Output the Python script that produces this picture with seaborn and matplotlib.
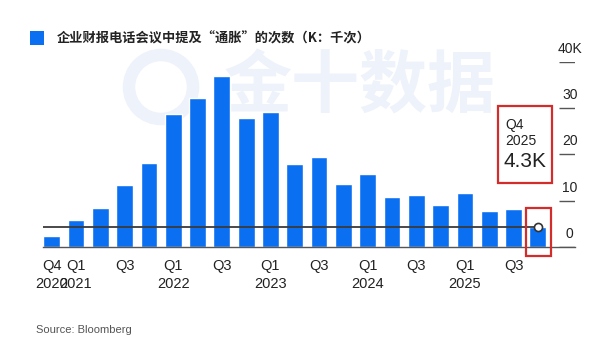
import matplotlib
matplotlib.use("Agg")
import matplotlib.pyplot as plt
import matplotlib.transforms as mtrans
from matplotlib.patches import Rectangle, Circle
import pandas as pd
import seaborn as sns

# quarterly counts of "inflation" mentions on earnings calls (thousands)
quarters = ["Q4 2020", "Q1 2021", "Q2 2021", "Q3 2021", "Q4 2021",
            "Q1 2022", "Q2 2022", "Q3 2022", "Q4 2022",
            "Q1 2023", "Q2 2023", "Q3 2023", "Q4 2023",
            "Q1 2024", "Q2 2024", "Q3 2024", "Q4 2024",
            "Q1 2025", "Q2 2025", "Q3 2025", "Q4 2025"]
mentions = [2.4, 5.7, 8.4, 13.3, 18.2,
            28.8, 32.1, 37.0, 27.9,
            29.2, 17.9, 19.4, 13.6,
            15.8, 10.8, 11.2, 9.0,
            11.6, 7.8, 8.1, 4.3]

tick_pos = [0, 1, 3, 5, 7, 9, 11, 13, 15, 17, 19]
tick_labels = ["Q4\n2020", "Q1\n2021", "Q3", "Q1\n2022", "Q3", "Q1\n2023",
               "Q3", "Q1\n2024", "Q3", "Q1\n2025", "Q3"]
y_ticks = [0, 10, 20, 30, 40]
y_labels = ["0", "10", "20", "30", "40K"]

title = "企业财报电话会议中提及“通胀”的次数（K：千次）"
source = "Source: Bloomberg"

blue = "#0b6ff2"
red = "#d42b2b"
dark = "#222222"

sns.set_style("white")
plt.rcParams["font.family"] = ["Liberation Sans", "Noto Sans CJK SC", "DejaVu Sans"]

df = pd.DataFrame({"quarter": quarters, "value": mentions})

fig = plt.figure(figsize=(6, 3.6), dpi=100)
ax = fig.add_axes([43 / 600, 113.3 / 360, 532 / 600, 184.7 / 360])
ax.patch.set_alpha(0)

# faint watermark behind the chart
fig.text(360 / 600, 272 / 360, "金十数据", fontsize=49, fontweight="bold",
         color="#eef2fa", ha="center", va="center", zorder=-5,
         family=["Noto Sans CJK SC"])
fig.add_artist(Circle((1.61, 2.73), 0.32, transform=fig.dpi_scale_trans,
                      fill=False, ec="#eef2fa", lw=9, zorder=-5))

sns.barplot(data=df, x="quarter", y="value", color=blue, saturation=1,
            width=0.69, ax=ax, zorder=2)

ax.set_xlim(-0.357, 21.53)
ax.set_ylim(0, 40)
ax.set_xlabel("")
ax.set_ylabel("")

for s in ["top", "left", "right"]:
    ax.spines[s].set_visible(False)
ax.spines["bottom"].set_color("#555555")
ax.spines["bottom"].set_linewidth(1)

ax.set_xticks(tick_pos, tick_labels)
ax.tick_params(axis="x", length=4, width=1, color="#555555", pad=5,
               labelsize=10.5, labelcolor=dark)
for lab in ax.get_xticklabels():
    lab.set_linespacing(1.3)
ax.set_yticks([])

# right-side value scale: short dashes with labels above them
ytr = ax.get_yaxis_transform()
ax.hlines(y_ticks, 0.97, 1.0, transform=ytr, color="#555555", lw=1)
off = mtrans.ScaledTranslation(0, 9 / 100, fig.dpi_scale_trans)
for v, lab in zip(y_ticks, y_labels):
    ax.text(0.99, v, lab, transform=ytr + off, ha="center", va="baseline",
            fontsize=10, color=dark)

# reference line at latest value
last = mentions[-1]
ax.hlines(last, -0.357, len(mentions) - 1, color="#3a3a3a", lw=1.3, zorder=4)
ax.scatter([len(mentions) - 1], [last], s=34, facecolor="white",
           edgecolor="#333333", linewidth=1.2, zorder=5)

# red highlight boxes
ax.add_patch(Rectangle((19.52, -2.0), 1.03, 10.4, fill=False, ec=red,
                       lw=1.6, clip_on=False, zorder=6))
fig.add_artist(Rectangle((498 / 600, 177 / 360), 54 / 600, 77 / 360,
                         fill=False, ec=red, lw=1.6))
fig.text(505 / 600, 235 / 360, "Q4", fontsize=10, color=dark, va="center")
fig.text(505 / 600, 219 / 360, "2025", fontsize=10, color=dark, va="center")
fig.text(504 / 600, 198 / 360, f"{last}K", fontsize=15, color=dark, va="center")

# legend and source
fig.add_artist(Rectangle((30 / 600, 315 / 360), 14 / 600, 14 / 360,
                         color=blue, lw=0))
fig.text(57 / 600, 321.5 / 360, title, fontsize=9.5, fontweight="bold",
         color=dark, va="center", family=["Noto Sans CJK SC", "DejaVu Sans"])
fig.text(36 / 600, 30 / 360, source, fontsize=8, color="#555555", va="center")

fig.savefig("out.png", dpi=100)
